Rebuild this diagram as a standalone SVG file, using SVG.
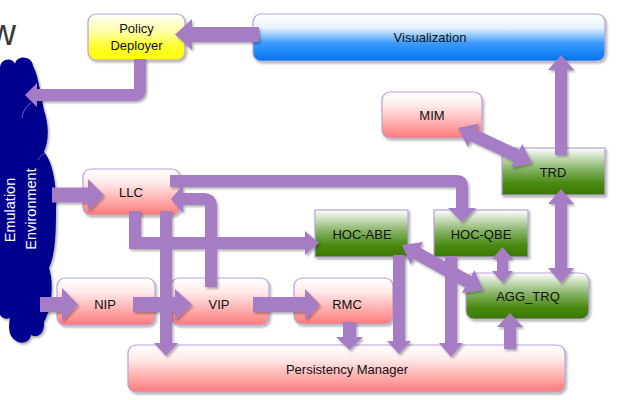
<svg xmlns="http://www.w3.org/2000/svg" width="623" height="400" viewBox="0 0 623 400">
<defs>
<linearGradient id="gPink" x1="0" y1="0" x2="0" y2="1">
<stop offset="0" stop-color="#ffffff"/><stop offset="0.3" stop-color="#ffeaea"/><stop offset="1" stop-color="#ff7a7a"/>
</linearGradient>
<linearGradient id="gGreen" x1="0" y1="0" x2="0" y2="1">
<stop offset="0" stop-color="#ffffff"/><stop offset="0.45" stop-color="#86b366"/><stop offset="0.75" stop-color="#4a8a12"/><stop offset="1" stop-color="#3a7800"/>
</linearGradient>
<linearGradient id="gYellow" x1="0" y1="0" x2="0" y2="1">
<stop offset="0" stop-color="#ffffff"/><stop offset="0.4" stop-color="#ffffa0"/><stop offset="0.7" stop-color="#ffff30"/><stop offset="1" stop-color="#ffff00"/>
</linearGradient>
<linearGradient id="gBlue" x1="0" y1="0" x2="0" y2="1">
<stop offset="0" stop-color="#ffffff"/><stop offset="0.3" stop-color="#e6f2ff"/><stop offset="0.62" stop-color="#3c9aff"/><stop offset="1" stop-color="#0074ee"/>
</linearGradient>
<filter id="sh" x="-10%" y="-10%" width="130%" height="140%">
<feDropShadow dx="1.5" dy="2" stdDeviation="1.2" flood-color="#000" flood-opacity="0.3"/>
</filter>
<style>
.box{stroke:#b9a1d7;stroke-width:1.2;filter:url(#sh)}
.pink{fill:url(#gPink)}
.green{fill:url(#gGreen)}
.yellow{fill:url(#gYellow)}
.blue{fill:url(#gBlue)}
.lbl{font-family:"Liberation Sans",Arial,sans-serif;font-size:13px;fill:#111;text-anchor:middle}
.env{font-family:"Liberation Sans",Arial,sans-serif;font-size:14.5px;fill:#fff;text-anchor:middle}
.arr{fill:#a67cc5}
</style>
</defs>
<rect width="623" height="400" fill="#fff"/>
<text x="-10" y="45" font-family="Liberation Sans,Arial,sans-serif" font-size="36" fill="#3a3a3a">w</text>

<g id="env">
<path d="M0,68 C0,58 13,57 15,64 C16,55 32,55 33,66 C38,74 40,92 44,110 C48,122 50,138 44,152 C53,162 57,186 56,210 C56,236 55,255 49,268 C54,282 52,308 44,322 C45,333 38,339 31,335 C30,343 20,345 15,340 C9,336 8,328 10,318 C6,320 2,318 0,315 Z" fill="#00008e" filter="url(#sh)"/>
<path d="M22,118 C23,110 27,106 31,103" fill="none" stroke="#ffffff" stroke-opacity="0.5" stroke-width="0.8"/>
<path d="M38,160 C40,156 43,154 46,153" fill="none" stroke="#ffffff" stroke-opacity="0.4" stroke-width="0.8"/>
<text class="env" transform="translate(15,210) rotate(-90)">Emulation</text>
<text class="env" transform="translate(36,209) rotate(-90)">Environment</text>
</g>

<g id="policy-deployer">
<rect class="box yellow" x="88" y="14" width="97" height="46" rx="8"/>
<text class="lbl" x="136.5" y="32.5">Policy</text>
<text class="lbl" x="136.5" y="50">Deployer</text>
</g>
<g id="visualization">
<rect class="box blue" x="253" y="14" width="352" height="47" rx="8"/>
<text class="lbl" x="430" y="42">Visualization</text>
</g>
<g id="mim">
<rect class="box pink" x="382" y="92" width="100" height="46" rx="8"/>
<text class="lbl" x="432" y="119.5">MIM</text>
</g>
<g id="trd">
<rect class="box green" x="502" y="148" width="103" height="47"/>
<text class="lbl" x="553" y="176.5">TRD</text>
</g>
<g id="llc">
<rect class="box pink" x="83" y="169" width="97" height="46" rx="8"/>
<text class="lbl" x="131" y="196.5">LLC</text>
</g>
<g id="hoc-abe">
<rect class="box green" x="315" y="210" width="93" height="47"/>
<text class="lbl" x="362" y="238.5">HOC-ABE</text>
</g>
<g id="hoc-qbe">
<rect class="box green" x="434" y="210" width="94" height="47"/>
<text class="lbl" x="481" y="238.5">HOC-QBE</text>
</g>
<g id="agg-trq">
<rect class="box green" x="466" y="273" width="123" height="46" rx="8"/>
<text class="lbl" x="528" y="301">AGG_TRQ</text>
</g>
<g id="nip">
<rect class="box pink" x="57" y="278" width="98" height="47" rx="8"/>
<text class="lbl" x="105" y="308.5">NIP</text>
</g>
<g id="vip">
<rect class="box pink" x="171" y="278" width="98" height="47" rx="8"/>
<text class="lbl" x="219" y="308.5">VIP</text>
</g>
<g id="rmc">
<rect class="box pink" x="294" y="278" width="99" height="46" rx="8"/>
<text class="lbl" x="347" y="308.5">RMC</text>
</g>
<g id="persistency-manager">
<rect class="box pink" x="128" y="345" width="437" height="47" rx="8"/>
<text class="lbl" x="347" y="373.5">Persistency Manager</text>
</g>

<g id="connectors" class="arr" filter="url(#sh)">
<path d="M259,27 L192,27 L192,19 L175,34.5 L192,50 L192,42 L259,42 Z"/>
<path d="M134,59 L146,59 L146,89 Q146,101 134,101 L37,101 L37,107 L25,95 L37,83 L37,89 L134,89 Z"/>
<path d="M52,187.5 L88,187.5 L88,179 L104,195 L88,211 L88,202.5 L52,202.5 Z"/>
<path d="M170,175 L456,175 Q468,175 468,187 L468,208 L476,208 L462,222 L448,208 L456,208 L456,187 L170,187 Z"/>
<path d="M205,287 L205,205 L183,205 L183,213 L171,199 L183,185 L183,193 L203,193 Q217,193 217,207 L217,287 Z"/>
<path d="M129,211 L141,211 L141,237 L305,237 L305,231 L319,243 L305,255 L305,249 L129,249 Z"/>
<path d="M160,211 L172,211 L172,343 L178,343 L166,356 L154,343 L160,343 Z"/>
<path d="M40,297 L62,297 L62,288 L78,304.5 L62,321 L62,312 L40,312 Z"/>
<path d="M133,297 L175,297 L175,289 L192,304.5 L175,320 L175,312 L133,312 Z"/>
<path d="M253,297 L305,297 L305,289 L320,304.5 L305,320 L305,312 L253,312 Z"/>
<path d="M343,322 L356,322 L356,337 L363,337 L349.5,350 L336,337 L343,337 Z"/>
<path d="M393,255 L405,255 L405,341 L411,341 L399,354 L387,341 L393,341 Z"/>
<path d="M445,256 L457,256 L457,343 L463,343 L451,357 L439,343 L445,343 Z"/>
<path d="M504,349 L504,327 L497,327 L510,313 L523,327 L516,327 L516,349 Z"/>
<path d="M502.5,247 L513,259 L508,259 L508,271 L513,271 L502.5,283 L492,271 L497,271 L497,259 L492,259 Z"/>
<path d="M402,245 L410.55,264.62 L413.70,258.94 L464.98,287.42 L461.83,293.10 L483,290 L474.45,270.37 L471.30,276.06 L420.02,247.58 L423.17,241.89 Z"/>
<path d="M561,189 L574,204 L567,204 L567,268 L574,268 L561,283 L548,268 L555,268 L555,204 L548,204 Z"/>
<path d="M555,155 L555,70 L548,70 L561,55 L574,70 L567,70 L567,155 Z"/>
<path d="M458,128 L467.81,147.02 L470.59,141.15 L513.85,161.61 L511.07,167.48 L532,163 L522.19,143.98 L519.41,149.85 L476.15,129.39 L478.93,123.52 Z"/>
</g>
</svg>
